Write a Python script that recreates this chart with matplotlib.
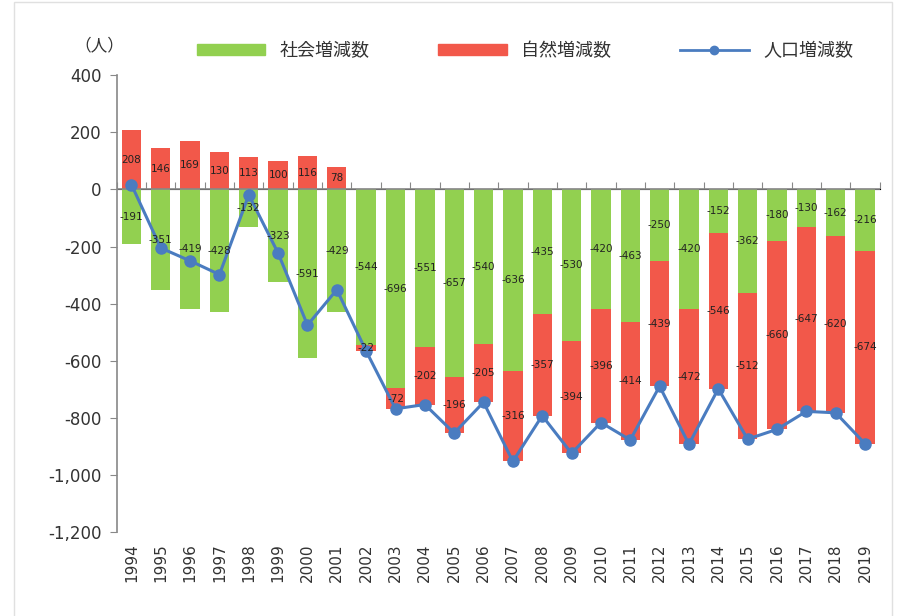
import numpy as np
import matplotlib.pyplot as plt
from matplotlib.lines import Line2D
from matplotlib.patches import Rectangle

plt.rcParams['font.family'] = ['Noto Sans CJK JP', 'DejaVu Sans']

# data
years = [str(y) for y in range(1994, 2020)]
social = [-191, -351, -419, -428, -132, -323, -591, -429, -544, -696, -551, -657, -540,
          -636, -435, -530, -420, -463, -250, -420, -152, -362, -180, -130, -162, -216]
natural = [208, 146, 169, 130, 113, 100, 116, 78, -22, -72, -202, -196, -205,
           -316, -357, -394, -396, -414, -439, -472, -546, -512, -660, -647, -620, -674]
population = [17, -205, -250, -298, -19, -223, -475, -351, -566, -768, -753, -853, -745,
              -952, -792, -924, -816, -877, -689, -892, -698, -874, -840, -777, -782, -890]

green = '#92D050'
red = '#F2584A'
blue = '#4A7CC0'
num_font = ['DejaVu Sans']

fig = plt.figure(figsize=(9.05, 6.16), dpi=100)
ax = fig.add_axes([0.129, 0.136, 0.843, 0.742])

x = np.arange(len(years))
soc = np.array(social)
nat = np.array(natural)
# natural change stacks on top of zero when positive, below social when negative
nat_base = np.where(nat >= 0, 0, soc)

w = 0.66
b1 = ax.bar(x, soc, width=w, color=green, zorder=2)
b2 = ax.bar(x, nat, width=w, bottom=nat_base, color=red, zorder=2)
ax.plot(x, population, color=blue, lw=2.2, marker='o', ms=8, zorder=4)

# segment labels
for i in x:
    ax.text(i, soc[i] / 2, f'{soc[i]}', ha='center', va='center', fontsize=7.5,
            color='#222222', zorder=5, family=num_font)
    ax.text(i, nat_base[i] + nat[i] / 2, f'{nat[i]}', ha='center', va='center',
            fontsize=7.5, color='#222222', zorder=5, family=num_font)

ax.set_xlim(-0.5, len(years) - 0.5)
ax.set_ylim(-1200, 400)
ax.set_yticks(range(-1200, 401, 200))
ax.set_yticklabels([f'{v:,}' for v in range(-1200, 401, 200)], fontsize=12,
                   family=num_font, color='#333333')
ax.set_xticks(x)
ax.set_xticklabels(years, rotation=90, fontsize=11, family=num_font, color='#333333')
ax.tick_params(axis='x', length=0, pad=8)
ax.tick_params(axis='y', length=5, color='#888888', direction='out', pad=6)

for s in ['top', 'right', 'bottom']:
    ax.spines[s].set_visible(False)
ax.spines['left'].set_color('#888888')
ax.spines['left'].set_linewidth(1.2)

# zero line with category ticks
ax.axhline(0, color='#888888', lw=1.2, zorder=3)
sec = ax.secondary_xaxis(0.75)
sec.set_xticks(np.arange(-0.5, len(years), 1))
sec.set_xticklabels([])
sec.tick_params(length=5, color='#888888', direction='out')
sec.spines['bottom'].set_visible(False)

fig.text(0.11, 0.925, '（人）', fontsize=12, ha='center', va='center', color='#333333')

handles = [Rectangle((0, 0), 1, 1, color=green), Rectangle((0, 0), 1, 1, color=red),
           Line2D([], [], color=blue, lw=2, marker='o', ms=6)]
fig.legend(handles, ['社会増減数', '自然増減数', '人口増減数'], loc='center',
           bbox_to_anchor=(0.58, 0.917), ncol=3, frameon=False, fontsize=13,
           handlelength=3.8, handleheight=0.6, columnspacing=3.8, labelcolor='#333333')

# faint outer frame
fig.patches.append(Rectangle((0.016, -0.01), 0.97, 1.006, transform=fig.transFigure,
                             fill=False, edgecolor='#e0e0e0', lw=1))

fig.savefig('out.png', dpi=100)
